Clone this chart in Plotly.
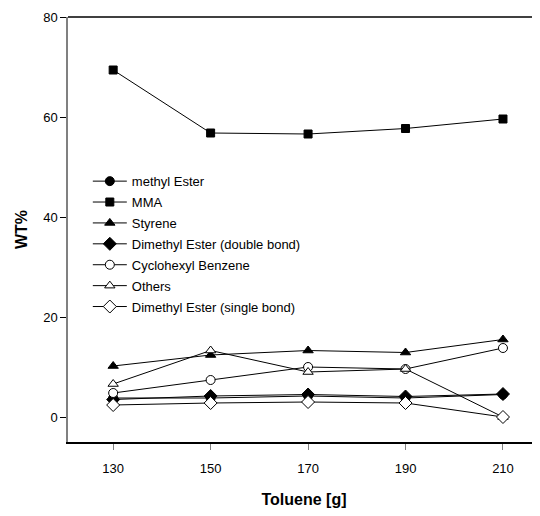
import plotly.graph_objects as go

toluene = [130, 150, 170, 190, 210]
methyl_ester = [3.8, 3.8, 4.2, 3.8, 4.5]
mma = [69.4, 56.8, 56.6, 57.7, 59.6]
styrene = [10.2, 12.4, 13.3, 12.9, 15.5]
dimethyl_double = [3.5, 4.2, 4.5, 4.1, 4.6]
cyclohexyl_benzene = [4.8, 7.4, 10.0, 9.6, 13.8]
others = [6.6, 13.3, 9.0, 9.6, 0.0]
dimethyl_single = [2.4, 2.8, 3.0, 2.8, 0.0]

series = [
    ("methyl Ester", methyl_ester, "circle", "black", 9),
    ("MMA", mma, "square", "black", 8),
    ("Styrene", styrene, "triangle-up", "black", 9),
    ("Dimethyl Ester (double bond)", dimethyl_double, "diamond", "black", 10),
    ("Cyclohexyl Benzene", cyclohexyl_benzene, "circle", "white", 9),
    ("Others", others, "triangle-up", "white", 9),
    ("Dimethyl Ester (single bond)", dimethyl_single, "diamond", "white", 10),
]

fig = go.Figure()
for i, (name, vals, sym, fill, size) in enumerate(series):
    fig.add_trace(go.Scatter(
        x=toluene, y=vals, name=name, mode="lines+markers",
        legendgroup=f"g{i}",
        line=dict(color="black", width=1),
        marker=dict(symbol=sym, size=size, color=fill,
                    line=dict(color="black", width=1)),
    ))

fig.add_shape(type="line", xref="paper", yref="paper", x0=0, x1=1, y0=1, y1=1,
              line=dict(color="black", width=1.5))

# page body has an 8px default margin; size the figure so it fits the window
fig.update_layout(
    width=532, height=500,
    margin=dict(l=60, r=0, t=9, b=66),
    paper_bgcolor="white", plot_bgcolor="white",
    font=dict(family="Liberation Sans, Arial, sans-serif", size=12, color="black"),
    showlegend=True,
    legend=dict(x=0.042, y=0.649, xanchor="left", yanchor="top",
                bgcolor="rgba(0,0,0,0)", font=dict(size=13),
                itemwidth=34, tracegroupgap=1, traceorder="grouped"),
    xaxis=dict(range=[120.73, 217.6], tickvals=toluene, ticks="outside",
               ticklen=6, tickcolor="#808080", showgrid=False, zeroline=False,
               showline=True, linecolor="black", linewidth=1.5,
               tickfont=dict(size=13), automargin=False, ticklabelstandoff=8,
               title=dict(text="<b>Toluene [g]</b>", font=dict(size=16), standoff=29)),
    yaxis=dict(range=[-5, 80], tickvals=[0, 20, 40, 60, 80], ticks="outside",
               ticklen=6, tickcolor="black", showgrid=False, zeroline=False,
               showline=True, linecolor="#808080", linewidth=1.5,
               tickfont=dict(size=13), automargin=False,
               title=dict(text="<b>WT%</b>", font=dict(size=16), standoff=12)),
)

fig.write_html("out.html")
